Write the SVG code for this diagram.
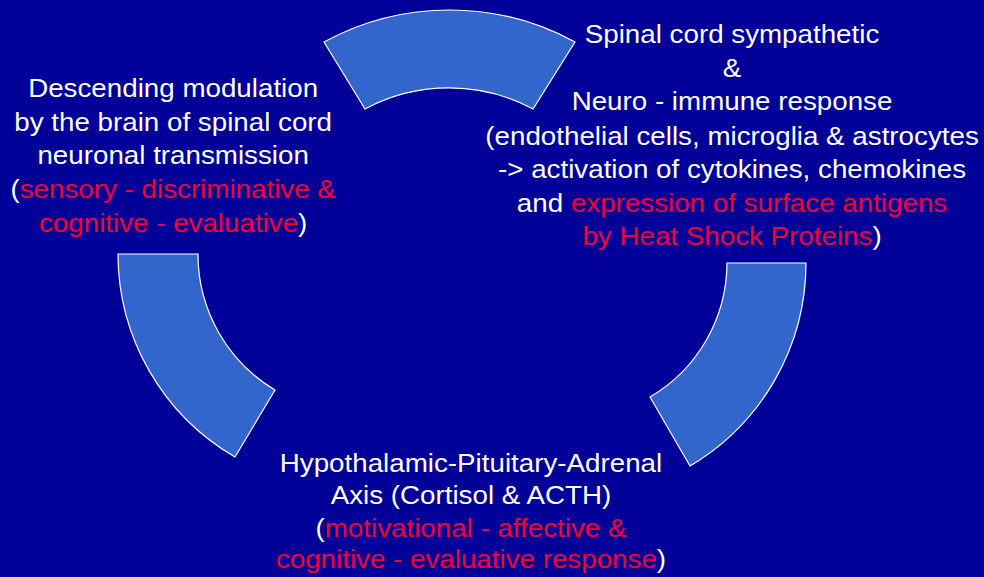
<svg xmlns="http://www.w3.org/2000/svg" width="984" height="577" viewBox="0 0 984 577">
<style>
.seg{fill:#3366CC;stroke:#FFFFFF;stroke-width:1.2}
.t{font-family:"Liberation Sans",Arial,sans-serif;font-size:25px;fill:#FFFFFF;text-anchor:middle}
.r{fill:#F20030}
</style>
<rect x="0" y="0" width="984" height="577" fill="#000099"/>
<g id="connectors">
<path id="arc-top" class="seg" d="M 324,42 A 262 262 0 0 1 575,42 L 533,109 A 178 178 0 0 0 365,109 Z"/>
<path id="arc-right" class="seg" d="M 727,263 L 806,263 A 236 236 0 0 1 690,466 L 650,397 A 156 156 0 0 0 727,263 Z"/>
<path id="arc-left" class="seg" d="M 118,254 L 198,254 A 158 158 0 0 0 275,390 L 235,457 A 235 235 0 0 1 118,254 Z"/>
</g>
<g id="node-descending" transform="scale(1.11,1)">
<text class="t" x="156" y="97">Descending modulation</text>
<text class="t" x="156" y="131">by the brain of spinal cord</text>
<text class="t" x="156" y="164">neuronal transmission</text>
<text class="t" x="156" y="198">(<tspan class="r">sensory - discriminative &amp;</tspan></text>
<text class="t" x="156" y="232"><tspan class="r">cognitive - evaluative</tspan>)</text>
</g>
<g id="node-spinal" transform="scale(1.11,1)">
<text class="t" x="659.5" y="43">Spinal cord sympathetic</text>
<text class="t" x="659.5" y="77">&amp;</text>
<text class="t" x="659.5" y="110">Neuro - immune response</text>
<text class="t" x="659.5" y="145">(endothelial cells, microglia &amp; astrocytes</text>
<text class="t" x="659.5" y="178">-&gt; activation of cytokines, chemokines</text>
<text class="t" x="659.5" y="212">and <tspan class="r">expression of surface antigens</tspan></text>
<text class="t" x="659.5" y="245"><tspan class="r">by Heat Shock Proteins</tspan>)</text>
</g>
<g id="node-hpa" transform="scale(1.11,1)">
<text class="t" x="424.3" y="472">Hypothalamic-Pituitary-Adrenal</text>
<text class="t" x="424.3" y="504">Axis (Cortisol &amp; ACTH)</text>
<text class="t" x="424.3" y="537">(<tspan class="r">motivational - affective &amp;</tspan></text>
<text class="t" x="424.3" y="568"><tspan class="r">cognitive - evaluative response</tspan>)</text>
</g>
</svg>
